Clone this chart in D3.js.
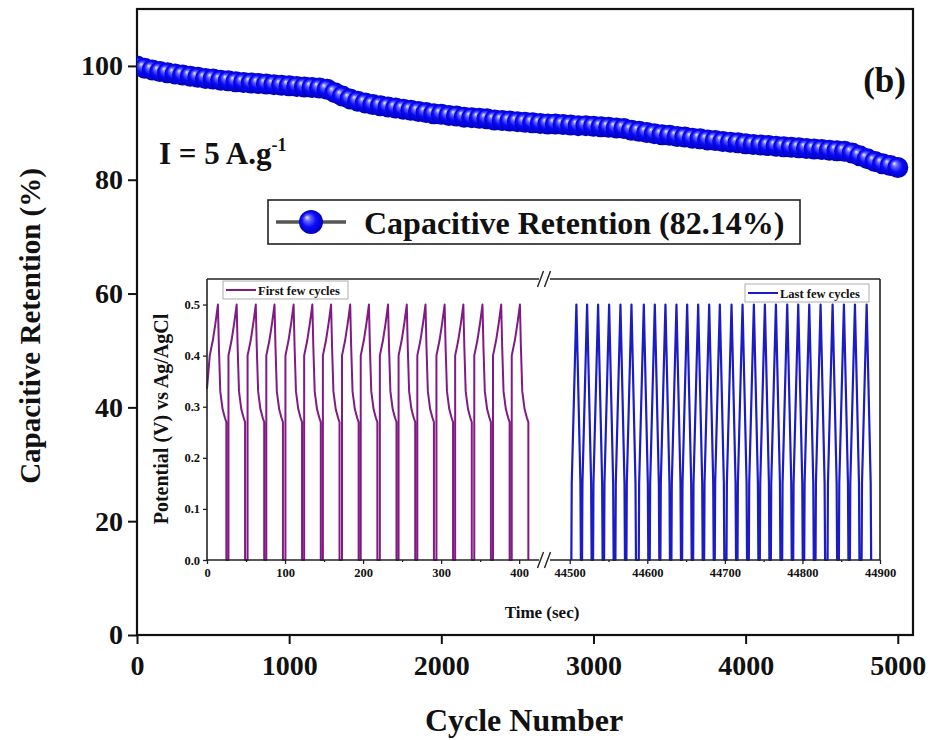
<!DOCTYPE html>
<html>
<head>
<meta charset="utf-8">
<script src="https://cdn.jsdelivr.net/npm/d3@7"></script>
<style>
  body { margin: 0; background: #fff; }
  text { font-family: "Liberation Serif", "Times New Roman", serif; font-weight: bold; fill: #111; }
</style>
</head>
<body>
<svg id="chart" width="930" height="740"></svg>
<script>
// ---- Cycling stability: capacitive retention vs cycle number ----
const cycleNumbers = [0,50,100,150,200,250,300,350,400,450,500,550,600,650,700,750,800,850,900,950,
  1000,1050,1100,1150,1200,1250,1300,1350,1400,1450,1500,1550,1600,1650,1700,1750,1800,1850,1900,1950,
  2000,2050,2100,2150,2200,2250,2300,2350,2400,2450,2500,2550,2600,2650,2700,2750,2800,2850,2900,2950,
  3000,3050,3100,3150,3200,3250,3300,3350,3400,3450,3500,3550,3600,3650,3700,3750,3800,3850,3900,3950,
  4000,4050,4100,4150,4200,4250,4300,4350,4400,4450,4500,4550,4600,4650,4700,4750,4800,4850,4900,4950,5000];
const retention = [100.0,99.6,99.3,99.0,98.8,98.6,98.4,98.2,98.0,97.8,97.7,97.5,97.4,97.2,97.1,97.0,96.9,96.8,96.7,96.6,
  96.5,96.4,96.3,96.2,96.1,95.9,95.3,94.7,94.2,93.8,93.5,93.2,93.0,92.8,92.6,92.4,92.2,92.0,91.8,91.6,
  91.5,91.3,91.2,91.0,90.9,90.8,90.7,90.5,90.4,90.3,90.2,90.1,90.0,89.9,89.8,89.8,89.7,89.6,89.5,89.5,
  89.4,89.3,89.2,89.1,89.0,88.7,88.5,88.3,88.1,87.9,87.8,87.6,87.5,87.3,87.2,87.0,86.9,86.7,86.6,86.5,
  86.3,86.2,86.1,86.0,85.9,85.8,85.7,85.6,85.5,85.4,85.3,85.2,85.1,85.0,84.7,84.2,83.7,83.2,82.8,82.5,82.14];
const xTicksMain = [0, 1000, 2000, 3000, 4000, 5000];
const yTicksMain = [0, 20, 40, 60, 80, 100];
const legendLabel = "Capacitive Retention (82.14%)";

// ---- Inset: galvanostatic charge/discharge curves ----
// peak times (s) of the first cycles and of the last cycles
const firstPeaks = [14, 38, 62.5, 86.5, 111, 135, 159, 183.5, 207.5, 232, 256, 280, 304.5, 328.5, 353, 377, 401];
const lastPeaks = [44508.6, 44522.4, 44536.6, 44550.8, 44565.4, 44579.6, 44595.5, 44609.7, 44623.4, 44637.6,
  44651.4, 44665.6, 44679.8, 44693.5, 44708.6, 44722.8, 44737.4, 44751.6, 44765.8, 44780.4, 44794.6,
  44808.8, 44823.4, 44838.9, 44853.5, 44867.7, 44882.8];
// one cycle, as [time offset from peak (s), potential (V)]
const firstCycleShape = [[-10.5, 0.0], [-10.5, 0.40], [-6.5, 0.43], [-3, 0.465], [0, 0.5], [1.2, 0.42],
  [3, 0.33], [6, 0.295], [9, 0.278], [10.8, 0.27], [10.8, 0.0]];
const firstLeadIn = [[0, 0.335]];
const lastCycleShape = [[-6.5, 0.0], [-6.0, 0.15], [0, 0.5], [5.2, 0.15], [5.8, 0.0]];
const insetYTicks = [0, 0.1, 0.2, 0.3, 0.4, 0.5];
const insetXTicksFirst = [0, 100, 200, 300, 400];
const insetXMinorFirst = [50, 150, 250, 350];
const insetXTicksLast = [44500, 44600, 44700, 44800, 44900];
const insetXMinorLast = [44550, 44650, 44750, 44850];

const svg = d3.select("#chart");

// gradient for the glossy spherical markers
const defs = svg.append("defs");
const grad = defs.append("radialGradient").attr("id", "sphere")
  .attr("cx", "50%").attr("cy", "50%").attr("r", "55%").attr("fx", "32%").attr("fy", "30%");
grad.append("stop").attr("offset", "0%").attr("stop-color", "#eef0ff");
grad.append("stop").attr("offset", "22%").attr("stop-color", "#6a6aff");
grad.append("stop").attr("offset", "55%").attr("stop-color", "#0a0aff");
grad.append("stop").attr("offset", "100%").attr("stop-color", "#0000a8");

// ---- main axes ----
const x = d3.scaleLinear().domain([0, 5100]).range([137, 913]);
const y = d3.scaleLinear().domain([0, 110]).range([635, 9]);

defs.append("clipPath").attr("id", "plotClip").append("rect")
  .attr("x", x(0)).attr("y", y(110)).attr("width", x(5100) - x(0)).attr("height", y(0) - y(110));

const gx = svg.append("g").attr("transform", `translate(0,${y(0)})`)
  .call(d3.axisBottom(x).tickValues(xTicksMain).tickSize(9).tickPadding(11).tickFormat(d3.format("d")));
const gy = svg.append("g").attr("transform", `translate(${x(0)},0)`)
  .call(d3.axisLeft(y).tickValues(yTicksMain).tickSize(9).tickPadding(5).tickFormat(d3.format("d")));
[gx, gy].forEach(g => {
  g.select(".domain").remove();
  g.selectAll(".tick line").attr("stroke", "#111").attr("stroke-width", 2);
  g.selectAll(".tick text").style("font-size", "28px").attr("fill", "#111");
});

// frame
svg.append("rect").attr("x", x(0)).attr("y", y(110))
  .attr("width", x(5100) - x(0)).attr("height", y(0) - y(110))
  .attr("fill", "none").attr("stroke", "#111").attr("stroke-width", 2.2);

// axis titles
svg.append("text").attr("transform", `translate(40,${(y(0) + y(110)) / 2 + 4}) rotate(-90)`)
  .attr("text-anchor", "middle").style("font-size", "29px").text("Capacitive Retention (%)");
svg.append("text").attr("x", 524).attr("y", 731)
  .attr("text-anchor", "middle").style("font-size", "32px").text("Cycle Number");

// annotations
const iText = svg.append("text").attr("x", 159).attr("y", 164).style("font-size", "31px");
iText.append("tspan").text("I = 5 A.g");
iText.append("tspan").attr("dy", -13).style("font-size", "18px").text("-1");
svg.append("text").attr("x", 906).attr("y", 92).attr("text-anchor", "end")
  .style("font-size", "35px").text("(b)");

// retention series
const mainData = cycleNumbers.map((c, i) => [c, retention[i]]);
const series = svg.append("g").attr("clip-path", "url(#plotClip)");
series.append("path").datum(mainData)
  .attr("fill", "none").attr("stroke", "#444").attr("stroke-width", 2)
  .attr("d", d3.line().x(d => x(d[0])).y(d => y(d[1])));
series.append("g").selectAll("circle").data(mainData).join("circle")
  .attr("cx", d => x(d[0])).attr("cy", d => y(d[1])).attr("r", 10.5)
  .attr("fill", "url(#sphere)");

// legend
const lg = svg.append("g");
lg.append("rect").attr("x", 268).attr("y", 200).attr("width", 532).attr("height", 44)
  .attr("fill", "#fff").attr("stroke", "#222").attr("stroke-width", 1.6);
lg.append("line").attr("x1", 276).attr("x2", 346).attr("y1", 222).attr("y2", 222)
  .attr("stroke", "#555").attr("stroke-width", 3.5);
lg.append("circle").attr("cx", 311).attr("cy", 222).attr("r", 12).attr("fill", "url(#sphere)");
lg.append("text").attr("x", 364).attr("y", 234).style("font-size", "32px").text(legendLabel);

// ---- inset ----
const xL = d3.scaleLinear().domain([0, 428]).range([207, 541]);
const xR = d3.scaleLinear().domain([44472, 44900]).range([548, 880]);
const yI = d3.scaleLinear().domain([0, 0.55]).range([560, 279]);
const inset = svg.append("g");

inset.append("rect").attr("x", 207).attr("y", 279).attr("width", 673).attr("height", 281).attr("fill", "#fff");

// traces
const firstPts = firstLeadIn.slice();
firstPeaks.forEach((p, k) => {
  firstCycleShape.forEach(([dt, v], j) => { if (!(k === 0 && j === 0)) firstPts.push([p + dt, v]); });
});
const lastPts = [];
lastPeaks.forEach(p => lastCycleShape.forEach(([dt, v]) => lastPts.push([p + dt, v])));

inset.append("path").datum(firstPts).attr("fill", "none").attr("stroke", "#821a84")
  .attr("stroke-width", 2).attr("stroke-linejoin", "round")
  .attr("d", d3.line().x(d => xL(d[0])).y(d => yI(d[1])));
inset.append("path").datum(lastPts).attr("fill", "none").attr("stroke", "#1c1cc4")
  .attr("stroke-width", 2.2).attr("stroke-linejoin", "round")
  .attr("d", d3.line().x(d => xR(d[0])).y(d => yI(d[1])));

// inset axes (ticks and labels)
const fmt1 = d3.format(".1f");
const gyI = inset.append("g").attr("transform", "translate(207,0)")
  .call(d3.axisLeft(yI).tickValues(insetYTicks).tickSize(4).tickPadding(3).tickFormat(fmt1));
const gxL = inset.append("g").attr("transform", "translate(0,560)")
  .call(d3.axisBottom(xL).tickValues(insetXTicksFirst).tickSize(4).tickPadding(4).tickFormat(d3.format("d")));
const gxR = inset.append("g").attr("transform", "translate(0,560)")
  .call(d3.axisBottom(xR).tickValues(insetXTicksLast).tickSize(4).tickPadding(4).tickFormat(d3.format("d")));
const gxLm = inset.append("g").attr("transform", "translate(0,560)")
  .call(d3.axisBottom(xL).tickValues(insetXMinorFirst).tickSize(2).tickFormat(""));
const gxRm = inset.append("g").attr("transform", "translate(0,560)")
  .call(d3.axisBottom(xR).tickValues(insetXMinorLast).tickSize(2).tickFormat(""));
[gyI, gxL, gxR, gxLm, gxRm].forEach(g => {
  g.select(".domain").remove();
  g.selectAll(".tick line").attr("stroke", "#222").attr("stroke-width", 1.3);
  g.selectAll(".tick text").style("font-size", "12.5px").attr("fill", "#222");
});

// inset frame with broken axis
const frame = inset.append("g").attr("stroke", "#222").attr("stroke-width", 1.6).attr("fill", "none");
[279, 560].forEach(yy => {
  frame.append("line").attr("x1", 207).attr("x2", 539).attr("y1", yy).attr("y2", yy);
  frame.append("line").attr("x1", 550).attr("x2", 880).attr("y1", yy).attr("y2", yy);
  [540.5, 547.5].forEach(bx => {
    frame.append("line").attr("x1", bx - 3).attr("x2", bx + 3).attr("y1", yy + 8).attr("y2", yy - 8)
      .attr("stroke-width", 1.4);
  });
});
frame.append("line").attr("x1", 207).attr("x2", 207).attr("y1", 279).attr("y2", 560);
frame.append("line").attr("x1", 880).attr("x2", 880).attr("y1", 279).attr("y2", 560);

// inset titles
inset.append("text").attr("transform", `translate(168,419) rotate(-90)`)
  .attr("text-anchor", "middle").style("font-size", "20px").text("Potential (V) vs Ag/AgCl");
inset.append("text").attr("x", 542).attr("y", 618).attr("text-anchor", "middle")
  .style("font-size", "17px").text("Time (sec)");

// inset legends
function insetLegend(x0, y0, w, color, label) {
  const g = inset.append("g");
  g.append("rect").attr("x", x0).attr("y", y0).attr("width", w).attr("height", 18)
    .attr("fill", "#fff").attr("stroke", "#999").attr("stroke-width", 0.8);
  g.append("line").attr("x1", x0 + 3).attr("x2", x0 + 33).attr("y1", y0 + 9).attr("y2", y0 + 9)
    .attr("stroke", color).attr("stroke-width", 2);
  g.append("text").attr("x", x0 + 35).attr("y", y0 + 13.5).style("font-size", "12.5px").text(label);
}
insetLegend(223, 281, 125, "#821a84", "First few cycles");
insetLegend(745, 284, 124, "#1c1cc4", "Last few cycles");
</script>
</body>
</html>
